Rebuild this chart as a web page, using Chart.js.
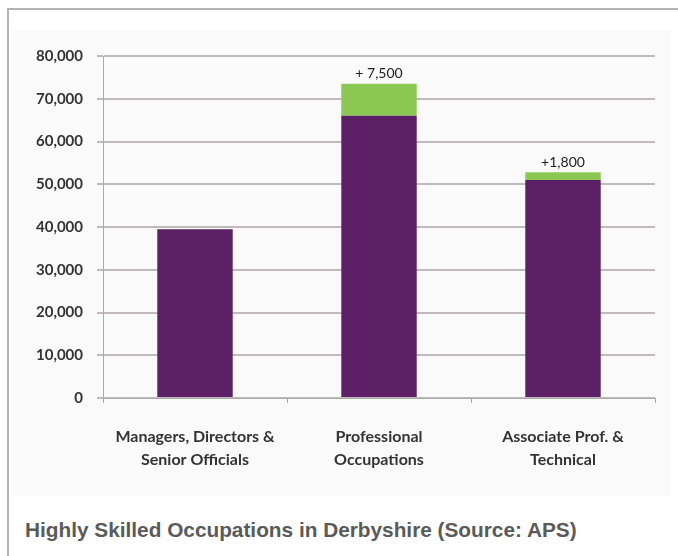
<!DOCTYPE html>
<html>
<head>
<meta charset="utf-8">
<script src="https://cdn.jsdelivr.net/npm/chart.js@4/dist/chart.umd.min.js"></script>
<style>
  body { margin: 0; background: #fff; width: 678px; height: 556px; overflow: hidden; position: relative; }
  #frame { position: absolute; left: 7px; top: 8px; right: 0; bottom: 0; border-top: 2px solid #b3b3b3; border-left: 2px solid #b3b3b3; }
  #panel { position: absolute; left: 12px; top: 30px; width: 658px; height: 466px; background: #fafafa; }
  #caption { position: absolute; left: 25px; top: 518px; font: bold 20.8px "Liberation Sans", Arial, sans-serif; color: #5a5a5a; }
</style>
</head>
<body>
<div id="frame"></div>
<div id="panel"><canvas id="occChart" width="658" height="466"></canvas></div>
<div id="caption">Highly Skilled Occupations in Derbyshire (Source: APS)</div>
<script>
const categories = [
    ['Managers, Directors &', 'Senior Officials'],
    ['Professional', 'Occupations'],
    ['Associate Prof. &', 'Technical']
];
const baseValues = [39500, 66000, 51000];
const increaseValues = [0, 7500, 1800];
const increaseLabels = ['', '+ 7,500', '+1,800'];
const yTicks = [0, 10000, 20000, 30000, 40000, 50000, 60000, 70000, 80000];

// writes the "+ x" labels above the green part
const increaseLabelPlugin = {
    id: 'increaseLabels',
    afterDatasetsDraw(chart) {
        const ctx = chart.ctx;
        const meta = chart.getDatasetMeta(1);
        ctx.save();
        ctx.font = '14px Lato, sans-serif';
        ctx.fillStyle = '#222';
        ctx.textAlign = 'center';
        ctx.textBaseline = 'bottom';
        meta.data.forEach(function (bar, i) {
            if (!increaseLabels[i]) return;
            ctx.fillText(increaseLabels[i], bar.x, bar.y - 3);
        });
        ctx.restore();
    }
};

const ctx = document.getElementById('occChart').getContext('2d');
new Chart(ctx, {
    type: 'bar',
    data: {
        labels: categories,
        datasets: [{
            label: 'Base',
            data: baseValues,
            backgroundColor: '#5d2066',
            barPercentage: 0.41,
            categoryPercentage: 1
        }, {
            label: 'Increase',
            data: increaseValues,
            backgroundColor: '#8cc653',
            barPercentage: 0.41,
            categoryPercentage: 1
        }]
    },
    options: {
        responsive: false,
        animation: false,
        layout: { padding: { top: 26, right: 15, left: 0, bottom: 0 } },
        plugins: {
            legend: { display: false },
            tooltip: { enabled: false }
        },
        scales: {
            x: {
                stacked: true,
                afterFit: function (scale) { scale.height = 98; },
                grid: { drawOnChartArea: false, drawTicks: true, tickLength: 5, color: '#aaa' },
                border: { color: '#aaa', width: 1 },
                ticks: {
                    padding: 23,
                    color: '#333',
                    font: { family: 'Lato, sans-serif', size: 16, weight: 'bold', lineHeight: 1.4 },
                    maxRotation: 0
                }
            },
            y: {
                stacked: true,
                min: 0,
                max: 80000,
                afterFit: function (scale) { scale.width = 91; },
                afterBuildTicks: function (scale) {
                    scale.ticks = yTicks.map(function (v) { return { value: v }; });
                },
                grid: { color: '#c2baba', lineWidth: 2, tickLength: 6 },
                border: { color: '#aaa', width: 1 },
                ticks: {
                    padding: 14,
                    color: '#333',
                    font: { family: 'Lato, sans-serif', size: 15, weight: 'bold' }
                }
            }
        }
    },
    plugins: [increaseLabelPlugin]
});
</script>
</body>
</html>
